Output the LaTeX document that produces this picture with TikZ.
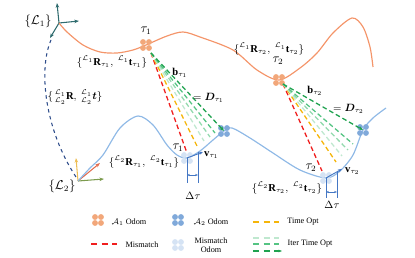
\documentclass[tikz,border=0pt]{standalone}
\usepackage{amsmath,bm}
\usepackage{fontspec}
\setmainfont{Liberation Serif}
\definecolor{trajOrange}{HTML}{F4956A}
\definecolor{trajBlue}{HTML}{8FB9E6}
\definecolor{dotOrange}{HTML}{F2A77A}
\definecolor{dotBlue}{HTML}{80A9DA}
\definecolor{dotPale}{HTML}{D5E3F4}
\definecolor{lineRed}{HTML}{F01E1E}
\definecolor{lineYellow}{HTML}{F5B50A}
\definecolor{mintA}{HTML}{BFE8CF}
\definecolor{mintB}{HTML}{93DAAE}
\definecolor{mintC}{HTML}{55C483}
\definecolor{darkGreen}{HTML}{1FA24F}
\definecolor{frameTeal}{HTML}{2F6B6E}
\definecolor{linkNavy}{HTML}{2D4C8A}
\definecolor{velBlue}{HTML}{4477C4}
\definecolor{axYellow}{HTML}{EDBE55}
\definecolor{axRed}{HTML}{E26A4C}
\definecolor{axGreen}{HTML}{7C9B4E}
\usetikzlibrary{positioning, arrows.meta}

\begin{document}
\begin{tikzpicture}[x=0.03cm, y=-0.03cm,
      lbl/.style={inner sep=0pt, font=\fontsize{9}{10}\selectfont},
      big/.style={inner sep=0pt, font=\fontsize{10.5}{11}\selectfont},
      leg/.style={inner sep=0pt, font=\fontsize{7}{7.5}\selectfont, align=center},
      fan/.style={dash pattern=on 4pt off 2.5pt, line width=1.1pt},
      legline/.style={dash pattern=on 5.5pt off 3.5pt, line width=1.1pt},
      ax/.style={-{Stealth[length=4pt]}, line width=0.9pt},
      vel/.style={-{Stealth[length=3.5pt]}, velBlue, line width=0.8pt},
      odom/.pic={\foreach \a in {45,135,225,315} \path[pic actions] (\a:3.6pt) circle (2.5pt);}]
    \useasboundingbox (0,0) rectangle (415,258);
    % frames
    \coordinate (L1) at (59,23);
    \coordinate (L2) at (78,181);
    \draw[ax, frameTeal] (L1) -- (57,3);
    \draw[ax, frameTeal] (L1) -- (79,21);
    \draw[ax, frameTeal] (L1) -- (50,38);
    \draw[ax, axYellow] (L2) -- (76,158);
    \draw[ax, axRed] (L2) -- (100,163);
    \draw[ax, axGreen] (L2) -- (104,179);
    \draw[linkNavy, dashed, line width=0.9pt] (76,177) .. controls (45,130) and (38,70) .. (51,40);
    % trajectories
    \coordinate (t1u) at (146,45);
    \coordinate (t2u) at (279,80);
    \coordinate (t1d) at (187,158);
    \coordinate (t2d) at (326,178);
    \coordinate (b1) at (224,131);
    \coordinate (b2) at (363,130);
    \draw[trajOrange, line width=1pt] plot[smooth] coordinates {(L1) (67,32) (83,45) (100,52) (117,53) (133,50) (t1u) (167,36) (183,32) (200,37) (233,50) (257,70) (t2u) (300,68) (317,53) (333,33) (352,18) (363,27) (370,47) (373,67)};
    \draw[trajBlue, line width=1pt] plot[smooth] coordinates {(L2) (90,168) (103,155) (120,128) (138,116) (153,125) (167,145) (177,155) (t1d) (200,151) (213,140) (b1) (232,128) (250,138) (273,153) (300,170) (t2d) (340,171) (353,155) (b2) (373,118) (386,108)};
    % odometry dots
    \pic[fill=dotPale] at (t1d) {odom};
    \pic[fill=dotPale] at (t2d) {odom};
    \pic[fill=dotOrange] at (t1u) {odom};
    \pic[fill=dotOrange] at (t2u) {odom};
    \pic[fill=dotBlue] at (b1) {odom};
    \pic[fill=dotBlue] at (b2) {odom};
    % fans
    \coordinate (s1) at (151,53);
    \coordinate (s2) at (283,84);
    \coordinate (e1a) at (187,153);
    \coordinate (e1b) at (197,146);
    \coordinate (e1c) at (204,141);
    \coordinate (e1d) at (210,137);
    \coordinate (e1e) at (215,133);
    \coordinate (e2a) at (322,171);
    \coordinate (e2b) at (336,162);
    \coordinate (e2c) at (342,156);
    \coordinate (e2d) at (348,150);
    \coordinate (e2e) at (353,144);
    \draw[fan, lineRed] (s1) -- (e1a);
    \draw[fan, lineYellow] (s1) -- (e1b);
    \draw[fan, mintA] (s1) -- (e1c);
    \draw[fan, mintB] (s1) -- (e1d);
    \draw[fan, mintC] (s1) -- (e1e);
    \draw[fan, darkGreen, -{Stealth[length=4pt]}] (s1) -- (b1);
    \draw[fan, lineRed] (s2) -- (e2a);
    \draw[fan, lineYellow] (s2) -- (e2b);
    \draw[fan, mintA] (s2) -- (e2c);
    \draw[fan, mintB] (s2) -- (e2d);
    \draw[fan, mintC] (s2) -- (e2e);
    \draw[fan, darkGreen, -{Stealth[length=4pt]}] (s2) -- (b2);
    % velocity and time offset
    \coordinate (v1) at (203,152);
    \coordinate (v2) at (342,169);
    \draw[vel] (t1d) -- (v1);
    \draw[vel] (t2d) -- (v2);
    \coordinate (d1l) at (187,183);
    \coordinate (d1r) at (198,183);
    \coordinate (d2l) at (326,198);
    \coordinate (d2r) at (337,198);
    \draw[velBlue, line width=0.8pt] (t1d) -- (d1l);
    \draw[velBlue, line width=0.8pt] (198,152) -- (d1r);
    \draw[velBlue, line width=0.8pt] (t2d) -- (d2l);
    \draw[velBlue, line width=0.8pt] (337,172) -- (d2r);
    \draw[velBlue, line width=0.6pt, {Stealth[length=2.5pt]}-{Stealth[length=2.5pt]}] (187,175) -- (198,175);
    \draw[velBlue, line width=0.6pt, {Stealth[length=2.5pt]}-{Stealth[length=2.5pt]}] (326,192) -- (337,192);
    % labels
    \node[big] (nL1) at (38,21) {$\{\mathcal{L}_1\}$};
    \node[big] (nL2) at (62,186) {$\{\mathcal{L}_2\}$};
    \node[lbl] (nR1u) at (112,62) {$\{{}^{\mathcal{L}_1}\mathbf{R}_{\tau_1},\ {}^{\mathcal{L}_1}\mathbf{t}_{\tau_1}\}$};
    \node[lbl] (nR2u) at (269,49) {$\{{}^{\mathcal{L}_1}\mathbf{R}_{\tau_2},\ {}^{\mathcal{L}_1}\mathbf{t}_{\tau_2}\}$};
    \node[lbl] (nExt) at (75,97) {$\{\,{}^{\mathcal{L}_1}_{\mathcal{L}_2}\mathbf{R},\ {}^{\mathcal{L}_1}_{\mathcal{L}_2}\bm{t}\}$};
    \node[lbl] (nR1d) at (144,162) {$\{{}^{\mathcal{L}_2}\mathbf{R}_{\tau_1},\ {}^{\mathcal{L}_2}\mathbf{t}_{\tau_1}\}$};
    \node[lbl] (nR2d) at (287,188) {$\{{}^{\mathcal{L}_2}\mathbf{R}_{\tau_2},\ {}^{\mathcal{L}_2}\mathbf{t}_{\tau_2}\}$};
    \node[big] (nT1u) at (146,31) {$\tau_1$};
    \node[big] (nT2u) at (278,61) {$\tau_2$};
    \node[big] (nT1d) at (178,148) {$\tau_1$};
    \node[big] (nT2d) at (311,168) {$\tau_2$};
    \node[lbl] (nB1) at (180,73) {$\mathbf{b}_{\tau_1}$};
    \node[lbl] (nB2) at (315,91) {$\mathbf{b}_{\tau_2}$};
    \node[lbl, anchor=west] (nD1) at (193,98) {$=\bm{D}_{\tau_1}$};
    \node[lbl, anchor=west] (nD2) at (333,109) {$=\bm{D}_{\tau_2}$};
    \node[lbl, anchor=west] (nV1) at (204,155) {$\mathbf{v}_{\tau_1}$};
    \node[lbl, anchor=west] (nV2) at (345,171) {$\mathbf{v}_{\tau_2}$};
    \node[lbl] (nDt1) at (193,196) {$\Delta\tau$};
    \node[lbl] (nDt2) at (332,205) {$\Delta\tau$};
    % legend
    \pic[fill=dotOrange] at (98,220) {odom};
    \pic[fill=dotBlue] at (178,220) {odom};
    \pic[fill=dotPale] at (178,245) {odom};
    \draw[legline, lineRed] (91,244) -- (117,244);
    \draw[legline, lineYellow] (253,222) -- (279,222);
    \draw[legline, mintA] (253,238) -- (279,238);
    \draw[legline, mintC] (253,244) -- (279,244);
    \draw[legline, darkGreen, -{Stealth[length=3pt]}] (253,251) -- (282,251);
    \node[leg] (lgA1) at (129,222) {$\mathcal{A}_1$ Odom};
    \node[leg] (lgA2) at (211,222) {$\mathcal{A}_2$ Odom};
    \node[leg] (lgMis) at (142,245) {Mismatch};
    \node[leg] (lgMisO) at (211,245) {Mismatch\\Odom};
    \node[leg] (lgTime) at (303,222) {Time Opt};
    \node[leg] (lgIter) at (310,244) {Iter Time Opt};
  \end{tikzpicture}
\end{document}
